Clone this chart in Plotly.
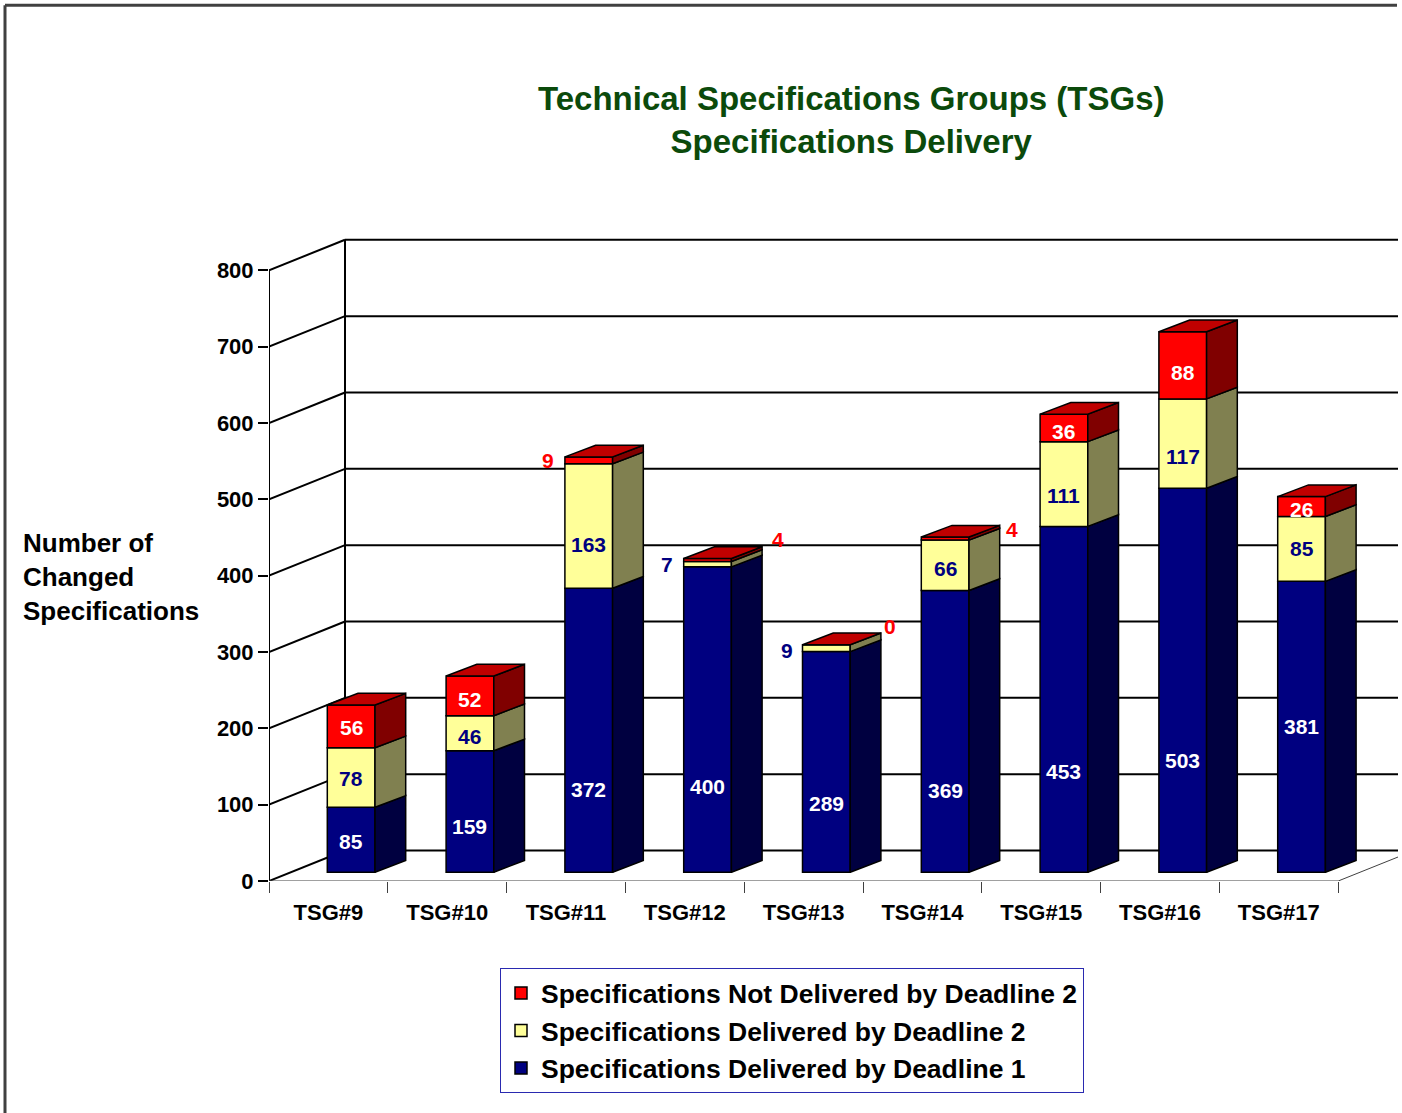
import plotly.graph_objects as go

# ---------------- data ----------------
categories = ["TSG#9", "TSG#10", "TSG#11", "TSG#12", "TSG#13", "TSG#14", "TSG#15", "TSG#16", "TSG#17"]
delivered_d1 = [85, 159, 372, 400, 289, 369, 453, 503, 381]
delivered_d2 = [78, 46, 163, 7, 9, 66, 111, 117, 85]
not_delivered_d2 = [56, 52, 9, 4, 0, 4, 36, 88, 26]
y_ticks = [0, 100, 200, 300, 400, 500, 600, 700, 800]
series_names = ["Specifications Delivered by Deadline 1",
                "Specifications Delivered by Deadline 2",
                "Specifications Not Delivered by Deadline 2"]
title_text = "Technical Specifications Groups (TSGs)<br>Specifications Delivery"
y_title = "Number of<br>Changed<br>Specifications"

# ---------------- styles ----------------
FONT = "Arial, 'Liberation Sans', sans-serif"
front_colors = ["#000080", "#FFFF99", "#FF0000"]
side_colors = ["#000040", "#808050", "#800000"]
top_color = "#C00000"
label_colors = ["white", "#000080", "white"]
outside_label_colors = ["#000080", "#000080", "#FF0000"]
# vertical placement of in-bar labels (fraction of segment height), per series
label_frac = [
    [0.47, 0.38, 0.29, 0.28, 0.31, 0.29, 0.29, 0.29, 0.50],
    [0.48, 0.40, 0.35, 0.5, 0.5, 0.43, 0.36, 0.35, 0.50],
    [0.47, 0.40, 0.5, 0.5, 0.5, 0.5, 0.36, 0.39, 0.34],
]
# labels placed outside the bar: (series, category) -> placement
outside_labels = {
    (2, 2): ("left", -17, 0),
    (1, 3): ("left", -17, 0),
    (1, 4): ("left", -16, -2),
    (2, 3): ("right", 16, 7),
    (2, 4): ("right", 9, 7),
    (2, 5): ("right", 12, -4),
}

# ---------------- geometry (pixels -> axis units) ----------------
W, H = 1402, 1113
PL, PR, PT, PB = 269, 1398, 236, 881.5
CAT_PX = 118.8
UNIT_PX = 0.764
X0 = -0.5
XMAX = X0 + (PR - PL) / CAT_PX
YMAX = (PB - PT) / UNIT_PX


def paper_x(px):
    return (px - PL) / (PR - PL)


def paper_y(py):
    return (PB - py) / (PB - PT)


WALL_DX = 76 / CAT_PX
WALL_DY = 30.5 / UNIT_PX
BAR_FX = 22.75 / CAT_PX
BAR_FY = 8.8 / UNIT_PX
BAR_W = 47.7 / CAT_PX
BAR_DX = 30.7 / CAT_PX
BAR_DY = 11.7 / UNIT_PX

n = len(categories)
series = [delivered_d1, delivered_d2, not_delivered_d2]
bases = []
cum = [0] * n
for vals in series:
    bases.append(cum[:])
    cum = [c + v for c, v in zip(cum, vals)]
totals = cum

fig = go.Figure()

xc = [i + BAR_FX for i in range(n)]
xl = [x - BAR_W / 2 for x in xc]
xr = [x + BAR_W / 2 for x in xc]

# front faces
for s, vals in enumerate(series):
    fig.add_trace(go.Bar(
        x=xc, y=vals, base=[b + BAR_FY for b in bases[s]], width=BAR_W,
        name=series_names[s],
        marker=dict(color=front_colors[s], line=dict(color="black", width=1.5)),
        hoverinfo="skip", legendgroup=str(s),
    ))

# side faces
for s, vals in enumerate(series):
    px_, py_ = [], []
    for i in range(n):
        if vals[i] <= 0:
            continue
        y0 = bases[s][i] + BAR_FY
        y1 = y0 + vals[i]
        px_ += [xr[i], xr[i] + BAR_DX, xr[i] + BAR_DX, xr[i], xr[i], None]
        py_ += [y0, y0 + BAR_DY, y1 + BAR_DY, y1, y0, None]
    fig.add_trace(go.Scatter(x=px_, y=py_, mode="lines", fill="toself",
                             fillcolor=side_colors[s],
                             line=dict(color="black", width=1.5),
                             showlegend=False, hoverinfo="skip"))

# top faces
tx, ty = [], []
for i in range(n):
    t = totals[i] + BAR_FY
    tx += [xl[i], xl[i] + BAR_DX, xr[i] + BAR_DX, xr[i], xl[i], None]
    ty += [t, t + BAR_DY, t + BAR_DY, t, t, None]
fig.add_trace(go.Scatter(x=tx, y=ty, mode="lines", fill="toself", fillcolor=top_color,
                         line=dict(color="black", width=1.5),
                         showlegend=False, hoverinfo="skip"))

# data labels
annotations = []
for s, vals in enumerate(series):
    for i in range(n):
        v = vals[i]
        key = (s, i)
        if key in outside_labels:
            kind, dx, dy = outside_labels[key]
            if kind == "left":
                ax = xl[i]
                ay = bases[s][i] + BAR_FY + v / 2
            else:
                ax = xr[i] + BAR_DX
                ay = totals[i] + BAR_FY + BAR_DY
            annotations.append(dict(
                x=ax, y=ay, xref="x", yref="y", text=str(v), showarrow=False,
                xshift=dx, yshift=dy, xanchor="center", yanchor="middle",
                font=dict(family=FONT, size=21, color=outside_label_colors[s], weight="bold")))
        elif v > 0:
            annotations.append(dict(
                x=xc[i], y=bases[s][i] + BAR_FY + v * label_frac[s][i],
                xref="x", yref="y", text=str(v), showarrow=False,
                xanchor="center", yanchor="middle",
                font=dict(family=FONT, size=21, color=label_colors[s], weight="bold")))

# title and y axis title
annotations.append(dict(
    x=paper_x(851), y=paper_y(120), xref="paper", yref="paper", text=title_text,
    showarrow=False, xanchor="center", yanchor="middle", align="center",
    font=dict(family=FONT, size=33, color="#0B4A0B", weight="bold")))
annotations.append(dict(
    x=paper_x(21), y=paper_y(577), xref="paper", yref="paper", text=y_title,
    showarrow=False, xanchor="left", yanchor="middle", align="left",
    font=dict(family=FONT, size=26, color="black", weight="bold")))

# ---------------- wall / floor / frame ----------------
shapes = []
line_k = dict(color="black", width=2)
for v in y_ticks:
    shapes.append(dict(type="line", xref="x", yref="y", layer="below",
                       x0=X0, y0=v, x1=X0 + WALL_DX, y1=v + WALL_DY, line=line_k))
    shapes.append(dict(type="line", xref="x", yref="y", layer="below",
                       x0=X0 + WALL_DX, y0=v + WALL_DY, x1=XMAX, y1=v + WALL_DY, line=line_k))
shapes.append(dict(type="line", xref="x", yref="y", layer="below",
                   x0=X0 + WALL_DX, y0=y_ticks[0] + WALL_DY,
                   x1=X0 + WALL_DX, y1=y_ticks[-1] + WALL_DY, line=line_k))
shapes.append(dict(type="line", xref="x", yref="y", layer="below",
                   x0=X0, y0=y_ticks[0], x1=X0, y1=y_ticks[-1], line=line_k))
thin = dict(color="#404040", width=1)
shapes.append(dict(type="line", xref="x", yref="y", layer="below",
                   x0=X0, y0=0, x1=n - 0.5, y1=0, line=thin))
shapes.append(dict(type="line", xref="x", yref="y", layer="below",
                   x0=n - 0.5, y0=0, x1=n - 0.5 + WALL_DX, y1=WALL_DY, line=thin))
frame = dict(color="#404040", width=3)
shapes.append(dict(type="line", xref="paper", yref="paper",
                   x0=paper_x(5), y0=paper_y(5), x1=paper_x(5), y1=paper_y(H + 5), line=frame))
shapes.append(dict(type="line", xref="paper", yref="paper",
                   x0=paper_x(5), y0=paper_y(5), x1=paper_x(1397), y1=paper_y(5), line=frame))

fig.update_layout(
    width=W, height=H,
    margin=dict(l=PL, r=W - PR, t=PT, b=H - PB, pad=0),
    paper_bgcolor="white", plot_bgcolor="white",
    barmode="overlay",
    showlegend=True,
    legend=dict(x=paper_x(500), y=paper_y(1031.5), xanchor="left", yanchor="middle",
                bordercolor="#2A2AB0", borderwidth=1, bgcolor="white",
                traceorder="reversed",
                font=dict(family=FONT, size=26.5, color="black", weight="bold")),
    xaxis=dict(range=[X0, XMAX], tickmode="array", tickvals=list(range(n)),
               ticktext=categories, ticks="", showgrid=False, zeroline=False,
               showline=False, ticklabelstandoff=16,
               tickfont=dict(family=FONT, size=22, color="black", weight="bold"),
               minor=dict(tickmode="array", tickvals=[i - 0.5 for i in range(n + 1)],
                          ticks="outside", ticklen=11, tickwidth=1, tickcolor="#404040",
                          showgrid=False),
               fixedrange=True),
    yaxis=dict(range=[0, YMAX], tickmode="array", tickvals=y_ticks,
               ticks="outside", ticklen=10, tickwidth=2, tickcolor="black",
               showgrid=False, zeroline=False, showline=False,
               tickfont=dict(family=FONT, size=22, color="black", weight="bold"),
               fixedrange=True),
    annotations=annotations,
    shapes=shapes,
)

fig.write_html("out.html", post_script="document.body.style.margin='0px';",
               config={"displayModeBar": False})
